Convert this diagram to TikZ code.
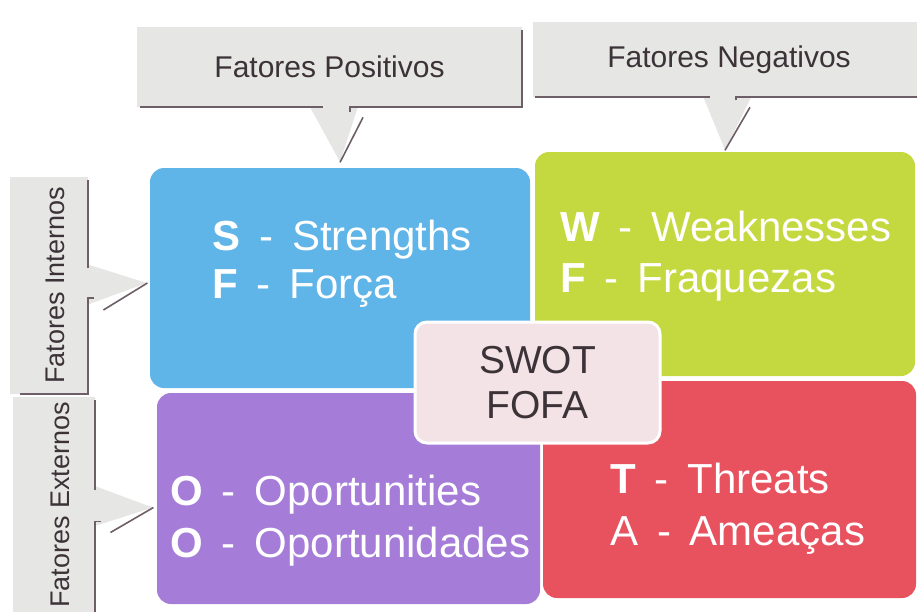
\documentclass[tikz,border=0pt]{standalone}
\usepackage{fontspec}
\setmainfont{Liberation Sans}
\usetikzlibrary{shapes.callouts}
\usetikzlibrary{calc}
\definecolor{azul}{HTML}{5FB4E8}
\definecolor{verde}{HTML}{C4D93F}
\definecolor{roxo}{HTML}{A57CD8}
\definecolor{vermelho}{HTML}{E8515E}
\definecolor{rosa}{HTML}{F4E3E6}
\definecolor{cinza}{HTML}{E6E6E4}
\definecolor{linha}{HTML}{6E5E68}
\definecolor{texto}{HTML}{3C3339}
\tikzset{
  quad/.style= {rounded corners=14pt, fill=#1, inner sep=0pt},
  rotulo/.style= {anchor=base west, inner sep=0pt, text=white, font=\fontsize{42}{48}\selectfont},
  centro/.style= {draw=white, line width=3pt, fill=rosa, rounded corners=12pt, minimum width=245pt, minimum height=121pt, align=center, text=texto, font=\fontsize{39}{45}\selectfont},
  fator/.style= {rectangle callout, fill=cinza, inner sep=0pt, callout pointer width=48pt, text=texto, font=\fontsize{30}{36}\selectfont},
  lateral/.style= {fator, callout pointer width=40pt, font=\fontsize{27}{32}\selectfont},
  borda/.style= {draw=linha, line width=1.6pt},
}
\newcommand{\swotpar}[2]{#1\hspace{.45em}-\hspace{.45em}#2}
\newcommand{\vertical}[1]{\rotatebox{90}{\raisebox{-6pt}[\height][\depth]{#1}}}

\begin{document}
\begin{tikzpicture}[x=1pt, y=-1pt]
  \useasboundingbox (0,0) rectangle (917,611);
  \clip (0,0) rectangle (917,611);

  \node [quad=azul, minimum width=380pt, minimum height=220pt] (s) at (340,278) {};
  \node [quad=verde, minimum width=380pt, minimum height=224pt] (w) at (725,264) {};
  \node [quad=roxo, minimum width=383pt, minimum height=211pt] (o) at (348.5,498.5) {};
  \node [quad=vermelho, minimum width=373pt, minimum height=217pt] (t) at (729.5,489.5) {};

  \node [rotulo] (s1) at (212,250) {\swotpar{\textbf{S}}{Strengths}};
  \node [rotulo] (s2) at (212,298) {\swotpar{\textbf{F}}{Força}};
  \node [rotulo] (w1) at (560,241) {\swotpar{\textbf{W}}{Weaknesses}};
  \node [rotulo] (w2) at (560,292) {\swotpar{\textbf{F}}{Fraquezas}};
  \node [rotulo] (o1) at (170,505) {\swotpar{\textbf{O}}{Oportunities}};
  \node [rotulo] (o2) at (170,557) {\swotpar{\textbf{O}}{Oportunidades}};
  \node [rotulo] (t1) at (610,493) {\swotpar{\textbf{T}}{Threats}};
  \node [rotulo] (t2) at (610,545) {\swotpar{A}{Ameaças}};

  \node [centro] (swot) at (537.5,382.5) {SWOT\\FOFA};

  \node [fator, minimum width=385pt, minimum height=80pt,
    callout absolute pointer={([yshift=6pt]s.north)}] (pos) at (329.5,67) {Fatores Positivos};
  \node [fator, minimum width=392pt, minimum height=75pt,
    callout absolute pointer={([yshift=2pt]w.north)}] (neg) at (729,59.5) {Fatores Negativos};
  \node [lateral, minimum width=78pt, minimum height=217pt,
    callout absolute pointer={([xshift=-3pt,yshift=-5pt]s.west)}] (int) at (49,285.5) {\vertical{Fatores Internos}};
  \node [lateral, minimum width=82pt, minimum height=216pt,
    callout absolute pointer={([xshift=-4pt,yshift=-9pt]o.west)}] (ext) at (54,505) {\vertical{Fatores Externos}};

  \draw [borda] ([yshift=-3pt]pos.north east) -- (pos.south east) -- ([xshift=10pt]pos.pointer |- pos.south) -- ++(0,5);
  \draw [borda] ([xshift=3pt]pos.south west) -- ([xshift=-17pt]pos.pointer |- pos.south);
  \draw [borda] (pos.pointer) -- ++(23,-45);

  \draw [borda] ([xshift=2pt]neg.south west) -- ([xshift=-15pt]neg.pointer |- neg.south);
  \draw [borda] ([xshift=11pt,yshift=-3pt]neg.pointer |- neg.south) -- ([xshift=11pt]neg.pointer |- neg.south) -- (neg.south east);
  \draw [borda] (neg.pointer) -- ++(25,-43);

  \draw [borda] ([yshift=-3pt]int.north east) -- ([yshift=15pt]int.east |- int.pointer);
  \draw [borda] ([xshift=6pt,yshift=-15pt]int.east |- int.pointer) -- ([yshift=-15pt]int.east |- int.pointer) -- (int.south east) -- ([xshift=10pt]int.south west);
  \draw [borda] (int.pointer) -- ++(-44,27);

  \draw [borda] ([yshift=-3pt]ext.north east) -- ([yshift=18pt]ext.east |- ext.pointer);
  \draw [borda] ([xshift=6pt,yshift=-14pt]ext.east |- ext.pointer) -- ([yshift=-14pt]ext.east |- ext.pointer) -- ([yshift=-20pt]ext.south east);
  \draw [borda] (ext.pointer) -- ++(-43,25);
\end{tikzpicture}
\end{document}
